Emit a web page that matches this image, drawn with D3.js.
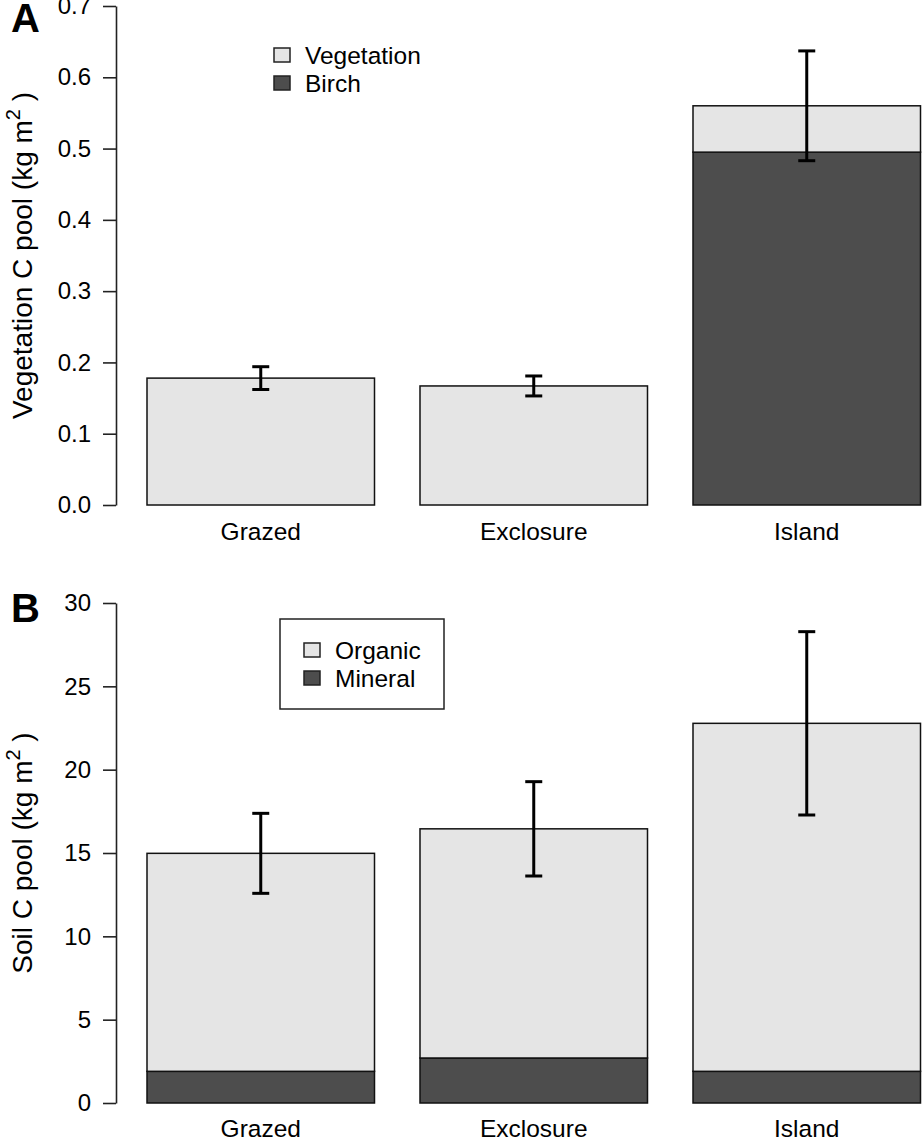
<!DOCTYPE html>
<html>
<head>
<meta charset="utf-8">
<script src="https://cdn.jsdelivr.net/npm/d3@7"></script>
<style>
  body { margin: 0; background: #fff; }
  svg { display: block; font-family: "Liberation Sans", Arial, sans-serif; }
</style>
</head>
<body>
<svg id="chart" width="922" height="1137"></svg>
<script>
// ---------------- data ----------------
const categories = ["Grazed", "Exclosure", "Island"];

// Panel A: vegetation C pool (kg m-2)
const birchA = [0, 0, 0.495];
const vegetationA = [0.178, 0.167, 0.065];
const errorA = [0.016, 0.014, 0.077];
const ticksA = [0.0, 0.1, 0.2, 0.3, 0.4, 0.5, 0.6, 0.7];

// Panel B: soil C pool (kg m-2)
const mineralB = [1.9, 2.7, 1.9];
const organicB = [13.08, 13.75, 20.88];
const errorB = [2.4, 2.83, 5.5];
const ticksB = [0, 5, 10, 15, 20, 25, 30];

const LIGHT = "#e5e5e5", DARK = "#4d4d4d";

const svg = d3.select("#chart");

const x = d3.scaleBand().domain(categories).range([124.25, 943.25])
  .paddingInner(1/6).paddingOuter(1/12);

function panel(opts) {
  const { y, lower, upper, err, ticks, fmt, title, letter, letterY, legendNames, legendBox, legendPos, labelY } = opts;
  const g = svg.append("g");

  // stacked bars
  categories.forEach((c, i) => {
    const x0 = x(c), w = x.bandwidth();
    g.append("rect").attr("x", x0).attr("y", y(lower[i]))
      .attr("width", w).attr("height", y(0) - y(lower[i]))
      .attr("fill", DARK).attr("stroke", "#111").attr("stroke-width", 1.5);
    g.append("rect").attr("x", x0).attr("y", y(lower[i] + upper[i]))
      .attr("width", w).attr("height", y(lower[i]) - y(lower[i] + upper[i]))
      .attr("fill", LIGHT).attr("stroke", "#111").attr("stroke-width", 1.5);
  });

  // error bars
  categories.forEach((c, i) => {
    const cx = x(c) + x.bandwidth() / 2;
    const tot = lower[i] + upper[i];
    const yt = y(tot + err[i]), yb = y(tot - err[i]);
    const eg = g.append("g").attr("stroke", "#000").attr("stroke-width", 3);
    eg.append("line").attr("x1", cx).attr("x2", cx).attr("y1", yt).attr("y2", yb);
    eg.append("line").attr("x1", cx - 8.5).attr("x2", cx + 8.5).attr("y1", yt).attr("y2", yt);
    eg.append("line").attr("x1", cx - 8.5).attr("x2", cx + 8.5).attr("y1", yb).attr("y2", yb);
  });

  // y axis
  const ax = g.append("g").attr("transform", "translate(116,0)")
    .call(d3.axisLeft(y).tickValues(ticks).tickFormat(fmt).tickSize(13).tickSizeOuter(0).tickPadding(12));
  ax.selectAll("path, line").attr("stroke", "#222").attr("stroke-width", 1.6);
  ax.selectAll("text").attr("font-size", 24).attr("fill", "#000")
    .attr("font-family", "'Liberation Sans', Arial, sans-serif");

  // category labels
  categories.forEach(c => {
    g.append("text").attr("x", x(c) + x.bandwidth() / 2).attr("y", labelY)
      .attr("text-anchor", "middle").attr("font-size", 24.5).text(c);
  });

  // y title
  const cy = (y.range()[0] + y.range()[1]) / 2;
  const t = g.append("text").attr("transform", `translate(32,${cy}) rotate(-90)`)
    .attr("text-anchor", "middle").attr("font-size", 28);
  t.append("tspan").text(title + " (kg m");
  t.append("tspan").attr("dy", -12).attr("font-size", 20).text("2");
  t.append("tspan").attr("dy", 12).text("\u00a0)");

  // panel letter
  g.append("text").attr("x", 11).attr("y", letterY).attr("font-size", 40)
    .attr("font-weight", "bold").text(letter);

  // legend
  if (legendBox) {
    g.append("rect").attr("x", legendBox[0]).attr("y", legendBox[1])
      .attr("width", legendBox[2]).attr("height", legendBox[3])
      .attr("fill", "none").attr("stroke", "#222").attr("stroke-width", 1.5);
  }
  const fills = [LIGHT, DARK];
  legendNames.forEach((n, i) => {
    const ly = legendPos[1] + i * 28;
    g.append("rect").attr("x", legendPos[0]).attr("y", ly - 7)
      .attr("width", 16).attr("height", 14)
      .attr("fill", fills[i]).attr("stroke", "#222").attr("stroke-width", 1.5);
    g.append("text").attr("x", legendPos[0] + 31).attr("y", ly)
      .attr("dominant-baseline", "central").attr("font-size", 24.5).text(n);
  });
}

panel({
  y: d3.scaleLinear().domain([0, 0.7]).range([505, 6]),
  lower: birchA, upper: vegetationA, err: errorA, ticks: ticksA,
  fmt: d3.format(".1f"), title: "Vegetation C pool", letter: "A", letterY: 32,
  legendNames: ["Vegetation", "Birch"], legendBox: null, legendPos: [274, 55],
  labelY: 540
});

panel({
  y: d3.scaleLinear().domain([0, 30]).range([1103, 603]),
  lower: mineralB, upper: organicB, err: errorB, ticks: ticksB,
  fmt: d3.format("d"), title: "Soil C pool", letter: "B", letterY: 622,
  legendNames: ["Organic", "Mineral"], legendBox: [280, 619, 164, 90], legendPos: [304, 650],
  labelY: 1137
});
</script>
</body>
</html>
